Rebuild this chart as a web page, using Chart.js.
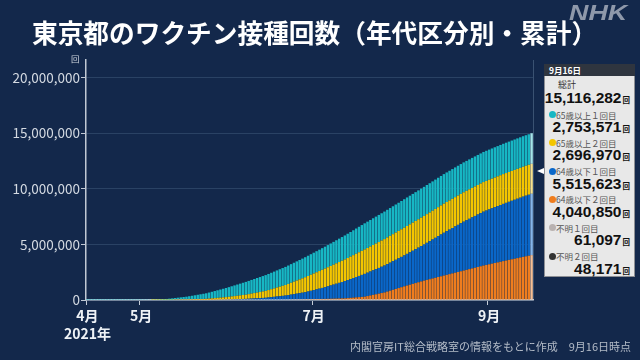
<!DOCTYPE html>
<html><head><meta charset="utf-8">
<script src="https://cdn.jsdelivr.net/npm/chart.js@4/dist/chart.umd.min.js"></script>
<style>
html,body{margin:0;padding:0;background:#13284b;}
#wrap{position:relative;width:640px;height:360px;overflow:hidden;background:#13284b;font-family:"Noto Sans CJK JP","Noto Sans",sans-serif;}
canvas{position:absolute;left:0;top:0;}
.abs{position:absolute;white-space:nowrap;}
</style></head><body>
<div id="wrap">
<canvas id="c" width="640" height="360"></canvas>
<div class="abs" style="left:32px;top:13px;font-size:25.7px;font-weight:700;color:#fff;line-height:38px;">東京都のワクチン接種回数（年代区分別・累計）</div>
<div class="abs" style="left:569px;top:0px;font-family:'Liberation Sans',Arial,sans-serif;font-size:22px;font-weight:700;font-style:italic;color:#8e98aa;line-height:26px;transform:scaleX(1.22);transform-origin:left top;">NHK</div>
<div class="abs" style="left:71px;top:52px;font-size:8.5px;color:#d2d8e0;line-height:12px;">回</div>
<div class="abs" style="right:9px;top:338px;font-size:11px;color:#b4bcc8;line-height:16px;">内閣官房IT総合戦略室の情報をもとに作成　9月16日時点</div>
<div class="abs" style="left:537px;top:168px;width:0;height:0;border-top:3.5px solid transparent;border-bottom:3.5px solid transparent;border-right:7px solid #fff;"></div>
<div id="panel" class="abs" style="left:544px;top:64px;width:91px;height:213px;background:#e8e8e8;border:1px solid #8d8f94;box-sizing:border-box;"></div>
<div id="legend"></div>
</div>
<script>
// ---- data (cumulative doses, thousands), one value per day from 2021-04-12 to 2021-09-16 ----
const startDate = '2021-04-12';
const monthTickDates = ['2021-04-12','2021-05-01','2021-07-01','2021-09-01'];
const monthTickLabels = [['4月','2021年'],'5月','7月','9月'];
const seriesNames = ['64歳以下２回目','64歳以下１回目','65歳以上２回目','65歳以上１回目'];

const under64Second = [
0,0,0,0,0,0,0, 0,0,0,0,0,0,0, 0,0,0,0,0,0,0, 0,0,0,0,0,0,0,
0,0,0,1,1,2,2, 3,4,5,6,7,8,9, 10,11,13,14,16,17,19, 20,21,23,24,26,27,29,
30,31,33,34,36,37,39, 40,41,43,44,46,47,49, 50,53,56,59,61,64,67,
70,74,79,83,87,91,96, 100,107,114,121,129,136,143, 150,171,193,214,236,257,279,
300,354,409,463,517,571,626, 680,759,837,916,994,1073,1151,
1230,1304,1377,1451,1524,1598,1671, 1745,1810,1874,1939,2003,2068,2132,
2200,2264,2329,2393,2457,2521,2586, 2650,2714,2779,2843,2907,2971,3036,
3100,3157,3214,3271,3329,3386,3443, 3500,3554,3609,3663,3717,3771,3826,
3880,3934,3987,4041];

const under64First = [
0,0,0,0,0,0,0, 0,0,0,0,0,0,0, 0,0,0,0,0,0,0, 0,0,0,0,0,0,0, 0,0,0,0,0,0,0,
0,1,1,2,3,4,4, 5,9,12,16,19,23,26, 30,36,41,47,53,59,64,
70,83,96,109,121,134,147, 160,187,214,241,269,296,323,
350,390,430,470,510,550,590, 630,690,750,810,870,930,990,
1050,1121,1193,1264,1336,1407,1479, 1550,1621,1693,1764,1836,1907,1979,
2050,2103,2156,2209,2261,2314,2367, 2420,2471,2523,2574,2626,2677,2729,
2780,2847,2914,2981,3049,3116,3183, 3250,3336,3421,3507,3593,3679,3764,
3850,3929,4007,4086,4164,4243,4321, 4400,4464,4529,4593,4657,4721,4786,
4850,4893,4936,4979,5021,5064,5107, 5150,5189,5227,5266,5304,5343,5381,
5420,5452,5484,5516];

const over65Second = [
0,0,0,0,0,0,0, 0,0,0,0,0,0,0, 0,0,0,0,0,0,0,
0,0,1,1,2,3,4, 5,7,10,13,16,19,22, 25,32,40,49,59,69,79,
90,107,124,141,158,175,192, 210,234,258,282,307,331,355,
380,414,449,483,517,551,586, 620,667,714,761,809,856,903,
950,1007,1064,1121,1179,1236,1293, 1350,1397,1444,1491,1539,1586,1633,
1680,1719,1757,1796,1834,1873,1911, 1950,1986,2021,2057,2093,2129,2164,
2200,2226,2251,2277,2303,2329,2354, 2380,2397,2414,2431,2449,2466,2483,
2500,2510,2520,2530,2540,2550,2560, 2570,2577,2584,2591,2599,2606,2613,
2620,2624,2627,2631,2634,2638,2641, 2645,2648,2651,2654,2656,2659,2662,
2665,2667,2669,2671,2674,2676,2678, 2680,2682,2683,2685,2687,2689,2690,
2692,2694,2695,2697];

const over65First = [
1,1,2,2,3,3,4, 4,5,5,6,6,7,7, 8,9,10,12,14,16,18, 20,28,36,46,58,70,80,
90,115,140,165,192,218,244, 270,303,336,369,402,435,468,
500,545,590,636,682,728,774, 820,867,914,961,1008,1055,1103,
1150,1190,1228,1267,1305,1344,1382, 1420,1450,1480,1510,1540,1570,1600,
1630,1654,1679,1703,1727,1751,1776, 1800,1824,1849,1873,1897,1921,1946,
1970,1997,2024,2051,2079,2106,2133, 2160,2187,2214,2241,2269,2296,2323,
2350,2369,2387,2406,2424,2443,2461, 2480,2491,2503,2514,2526,2537,2549,
2560,2569,2577,2586,2594,2603,2611, 2620,2626,2631,2637,2643,2649,2654,
2660,2664,2669,2673,2677,2681,2686, 2690,2693,2696,2699,2701,2704,2707,
2710,2713,2716,2719,2721,2724,2727, 2730,2733,2735,2738,2740,2743,2745,
2748,2750,2752,2754];

// legend panel (values as of 9月16日)
const panelDate = '9月16日';
const totalLabel = '総計';
const totalValue = 15116282;
const legendLabels = ['65歳以上１回目','65歳以上２回目','64歳以下１回目','64歳以下２回目','不明１回目','不明２回目'];
const legendValues = [2753571, 2696970, 5515623, 4040850, 61097, 48171];
const yTickValues = [0, 5000000, 10000000, 15000000, 20000000];
const yMax = 21600000;

// ---- styles ----
const seriesColors = ['#ef7d1e','#0a67c9','#f4c600','#17b7c4'];
const lastBarColors = ['#f6bf94','#86b6ea','#f8e38f','#a6e6ea'];
const legendDotColors = ['#17b7c4','#f4c600','#0a67c9','#ef7d1e','#b9b2b0','#333333'];

// ---- categories ----
const seriesData = [under64Second, under64First, over65Second, over65First];
const categories = [];
{
  const d0 = new Date(startDate + 'T00:00:00Z');
  for (let i = 0; i < over65First.length; i++) {
    const d = new Date(d0.getTime() + i * 86400000);
    categories.push(d.toISOString().slice(0,10));
  }
}
const tickMap = {};
monthTickDates.forEach((d,i)=>{ tickMap[categories.indexOf(d)] = monthTickLabels[i]; });
const lastIdx = categories.length - 1;

const datasets = seriesData.map((arr,k)=>({
  label: seriesNames[k],
  data: arr.map(v=>v*1000),
  backgroundColor: ctx => ctx.dataIndex === lastIdx ? lastBarColors[k] : seriesColors[k],
  borderWidth: 0,
  barPercentage: 0.86,
  categoryPercentage: 1.0
}));

new Chart(document.getElementById('c'), {
  type: 'bar',
  data: { labels: categories, datasets },
  options: {
    responsive: false,
    animation: false,
    devicePixelRatio: 1,
    layout: { padding: { left: 0, right: 107, top: 60, bottom: 0 } },
    plugins: { legend: { display: false }, tooltip: { enabled: false } },
    scales: {
      x: {
        stacked: true,
        offset: true,
        grid: {
          offset: true,
          drawOnChartArea: true,
          color: c => c.index === undefined ? '#3a5272' : 'transparent',
          tickColor: c => (c.index !== undefined && tickMap[c.index] !== undefined) ? '#c4ccd8' : 'transparent',
          tickLength: 5,
          lineWidth: 1
        },
        border: { color: '#c0c8d4', width: 1.5 },
        ticks: {
          autoSkip: false, maxRotation: 0, minRotation: 0, padding: 2,
          color: '#eef2f6',
          font: { family: '"Noto Sans CJK JP", sans-serif', size: 14, weight: 'bold', lineHeight: 1.25 },
          callback: (v, i) => tickMap[i] !== undefined ? tickMap[i] : ''
        },
        afterFit: s => { s.height = 60; }
      },
      y: {
        stacked: true,
        min: 0, max: yMax,
        grid: { color: '#2a4264', tickColor: '#c0c8d4', tickLength: 5, lineWidth: 1 },
        border: { color: '#c0c8d4', width: 1.5 },
        ticks: {
          padding: 1, color: '#d4dae2',
          font: { family: '"Noto Sans CJK JP", sans-serif', size: 13.5 },
          callback: v => Number(v).toLocaleString('en-US')
        },
        afterBuildTicks: s => { s.ticks = yTickValues.map(v => ({ value: v })); },
        afterFit: s => { s.width = 86; }
      }
    }
  }
});

// ---- legend panel ----
const L = document.getElementById('legend');
function add(html, style) {
  const d = document.createElement('div');
  d.className = 'abs';
  d.style.cssText = style;
  d.innerHTML = html;
  L.appendChild(d);
}
add(panelDate, 'left:544px;top:64px;width:91px;height:12px;background:#2f353f;color:#fff;font-size:8.5px;font-weight:700;line-height:12px;padding-left:5px;box-sizing:border-box;');
add(totalLabel, 'left:558px;top:79px;font-size:9px;color:#333;line-height:12px;');
const numStyle = 'right:10px;font-family:"Liberation Sans",Arial,sans-serif;font-size:15.5px;font-weight:700;color:#111;line-height:16px;';
const unitSpan = '<span style="font-family:\'Noto Sans CJK JP\',sans-serif;font-size:7.5px;font-weight:700;margin-left:1px;">回</span>';
add(totalValue.toLocaleString('en-US') + unitSpan, numStyle + 'top:90px;');
legendLabels.forEach((lab, i) => {
  const cy = 114.5 + i * 28.3;
  add('', `left:549px;top:${cy-3.5}px;width:7px;height:7px;border-radius:50%;background:${legendDotColors[i]};`);
  add(lab, `left:556px;top:${cy-6}px;font-size:8.5px;color:#555;line-height:12px;`);
  add(legendValues[i].toLocaleString('en-US') + unitSpan, numStyle + `top:${cy+4.5}px;`);
});
</script>
</body></html>
